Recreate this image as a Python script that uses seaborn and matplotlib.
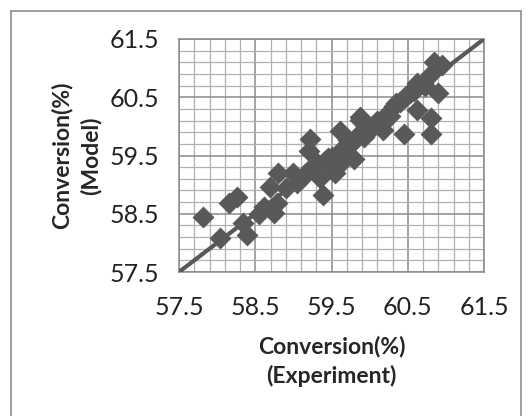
import matplotlib

matplotlib.use("Agg")
import matplotlib.pyplot as plt
import pandas as pd
import seaborn as sns
from matplotlib.patches import Rectangle
from matplotlib.ticker import MultipleLocator

# Values
EXPERIMENT = [
    57.82, 58.04, 58.15, 58.26, 58.34, 58.39, 58.55, 58.74, 58.78, 58.69,
    58.80, 58.99, 59.10, 59.20, 59.22, 59.31, 59.35, 59.39, 59.30, 59.45,
    59.52, 59.55, 59.61, 59.65, 59.60, 59.70, 59.79, 59.75, 59.88, 60.00,
    59.87, 59.92, 60.18, 60.27, 60.10, 60.40, 60.53, 60.62, 60.62, 60.35,
    60.50, 60.70, 60.90, 60.85, 60.95, 60.80, 60.80, 60.45,
    58.62, 58.90, 59.05, 59.15, 59.25, 59.42, 59.50, 59.62, 59.72, 59.85,
    59.95, 60.22, 60.32, 60.46, 60.58, 60.72, 60.80,
]
MODEL = [
    58.45, 58.08, 58.68, 58.79, 58.34, 58.14, 58.50, 58.51, 58.68, 58.96,
    59.20, 59.20, 59.10, 59.57, 59.78, 59.37, 59.12, 58.82, 59.25, 59.45,
    59.30, 59.20, 59.92, 59.40, 59.55, 59.65, 59.44, 59.70, 60.16, 59.94,
    60.11, 59.82, 59.94, 60.17, 60.10, 60.42, 60.57, 60.74, 60.28, 60.40,
    60.55, 60.75, 60.57, 61.10, 61.05, 60.14, 59.87, 59.87,
    58.62, 58.95, 59.02, 59.18, 59.30, 59.40, 59.48, 59.60, 59.76, 59.86,
    60.00, 60.20, 60.35, 60.50, 60.60, 60.70, 60.90,
]
LIMITS = [57.5, 61.5]
TICKS = [57.5, 58.5, 59.5, 60.5, 61.5]

sns.set_style("white")
plt.rcParams["font.family"] = ["Lato", "DejaVu Sans"]

MARK = "#595959"
GRID_MINOR = "#b0b0b0"
GRID_MAJOR = "#8a8a8a"

data = pd.DataFrame({"Experiment": EXPERIMENT, "Model": MODEL})

fig = plt.figure(figsize=(5.29, 4.16), dpi=100)
fig.patches.append(
    Rectangle((11 / 529, -0.1), 510 / 529, 1.1 - 11 / 416,
              transform=fig.transFigure, fill=False,
              edgecolor="#8c8c8c", linewidth=1.2)
)
ax = fig.add_axes([179 / 529, 1 - 272 / 416, 305 / 529, 233 / 416])

sns.scatterplot(data=data, x="Experiment", y="Model", marker="D", s=125,
                color=MARK, linewidth=0, ax=ax, zorder=3)
ax.plot(LIMITS, LIMITS, color=MARK, linewidth=3.0, zorder=4,
        solid_capstyle="butt")

ax.set_xlim(LIMITS)
ax.set_ylim(LIMITS)
ax.set_xticks(TICKS)
ax.set_yticks(TICKS)
ax.xaxis.set_minor_locator(MultipleLocator(0.2, offset=0.1))
ax.yaxis.set_minor_locator(MultipleLocator(0.2, offset=0.1))
ax.grid(which="minor", color=GRID_MINOR, linewidth=0.9)
ax.grid(which="major", color=GRID_MAJOR, linewidth=1.1)
ax.set_axisbelow(True)

for spine in ax.spines.values():
    spine.set_color(GRID_MAJOR)
    spine.set_linewidth(1.1)

ax.tick_params(which="major", direction="out", length=5, width=1.1,
               color=GRID_MAJOR, labelsize=18, labelcolor="#222222")
ax.tick_params(axis="x", which="major", pad=12)
ax.tick_params(axis="y", which="major", pad=9)
ax.tick_params(which="minor", length=0)

ax.set_xlabel("Conversion(%)\n(Experiment)", fontsize=16.5, fontweight="bold",
              linespacing=1.4)
ax.set_ylabel("Conversion(%)\n(Model)", fontsize=16.5, fontweight="bold",
              linespacing=1.4)
ax.xaxis.set_label_coords(0.5, -0.275)
ax.yaxis.set_label_coords(-0.255, 0.5)

fig.savefig("out.png", dpi=100)
